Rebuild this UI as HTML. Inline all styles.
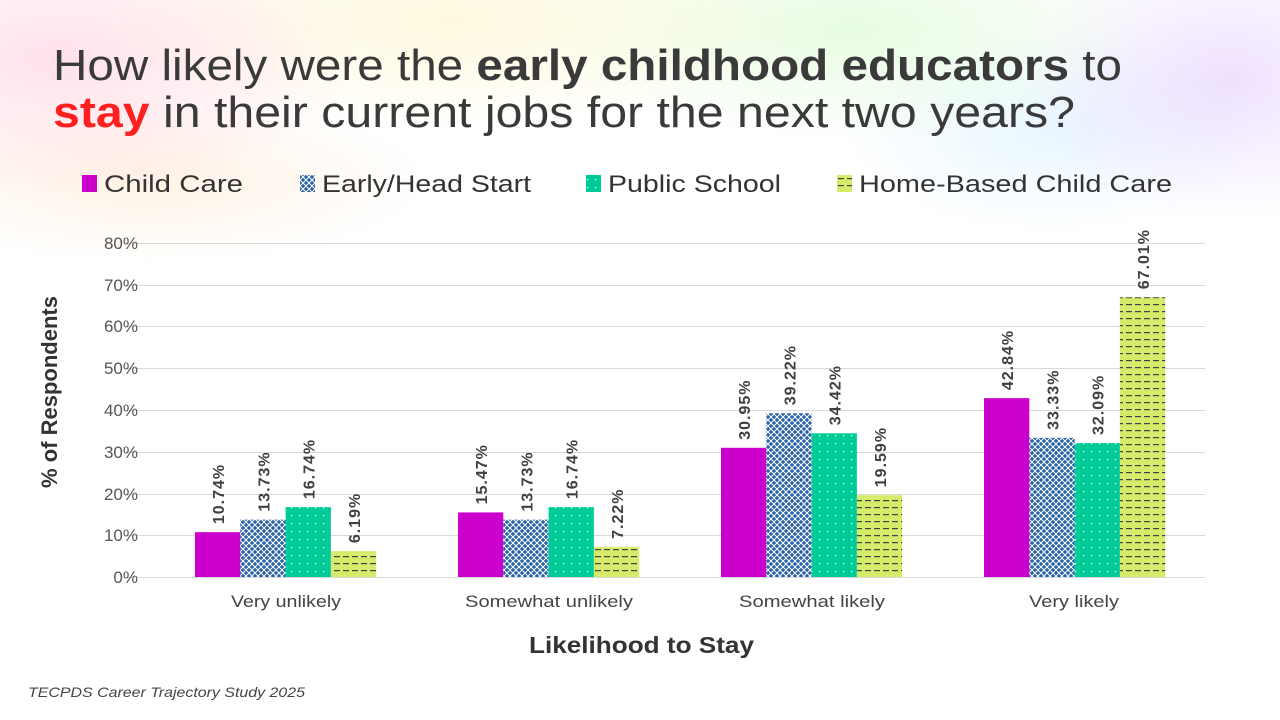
<!DOCTYPE html>
<html><head><meta charset="utf-8"><style>
html,body{margin:0;padding:0;}
body{width:1280px;height:720px;overflow:hidden;position:relative;background:#fff;font-family:"Liberation Sans",sans-serif;}
.bg{position:absolute;inset:0;background:
radial-gradient(ellipse 420px 200px at 60px 60px,rgba(255,200,215,.55),transparent 70%),
radial-gradient(ellipse 500px 160px at 450px 20px,rgba(255,245,200,.6),transparent 70%),
radial-gradient(ellipse 450px 160px at 850px 30px,rgba(215,250,205,.6),transparent 70%),
radial-gradient(ellipse 300px 200px at 1230px 80px,rgba(225,200,255,.55),transparent 70%),
radial-gradient(ellipse 300px 150px at 1050px 130px,rgba(210,240,255,.5),transparent 70%),
radial-gradient(ellipse 400px 120px at 150px 180px,rgba(255,225,190,.4),transparent 70%);}
</style></head><body><div class="bg"></div>
<svg width="1280" height="720" style="position:absolute;left:0;top:0" font-family="Liberation Sans, sans-serif">
<defs>
<pattern id="hb" width="6" height="6" patternUnits="userSpaceOnUse"><rect width="6" height="6" fill="#2a63a8"/><path d="M0 0L6 6M6 0L0 6" stroke="#fff" stroke-width="1"/></pattern>
<pattern id="pg" width="8" height="8" patternUnits="userSpaceOnUse"><rect width="8" height="8" fill="#00cc99"/><rect x="3" y="3" width="1.2" height="1.2" fill="#fff"/></pattern>
<pattern id="py" width="9" height="7" patternUnits="userSpaceOnUse"><rect width="9" height="7" fill="#d4ec6a"/><rect x="1" y="3" width="6" height="1.2" fill="#444"/></pattern>
</defs>
<text x="53" y="80" font-size="44" fill="#3a3a3a" textLength="1069" lengthAdjust="spacingAndGlyphs">How likely were the <tspan font-weight="bold">early childhood educators</tspan> to</text>
<text x="53" y="127" font-size="44" fill="#3a3a3a" textLength="1022" lengthAdjust="spacingAndGlyphs"><tspan font-weight="bold" fill="#ff2020">stay</tspan> in their current jobs for the next two years?</text>
<g font-size="24" fill="#333">
<rect x="82" y="175" width="15" height="17" fill="#cc00cc"/><text x="104" y="192" textLength="139" lengthAdjust="spacingAndGlyphs">Child Care</text>
<rect x="300" y="175" width="15" height="17" fill="url(#hb)"/><text x="322" y="192" textLength="209" lengthAdjust="spacingAndGlyphs">Early/Head Start</text>
<rect x="586" y="175" width="15" height="17" fill="url(#pg)"/><text x="608" y="192" textLength="173" lengthAdjust="spacingAndGlyphs">Public School</text>
<rect x="837" y="175" width="15" height="17" fill="url(#py)"/><text x="859" y="192" textLength="313" lengthAdjust="spacingAndGlyphs">Home-Based Child Care</text>
</g>
<g stroke="#d9d9d9" stroke-width="1">
<line x1="125" x2="1205" y1="243.5" y2="243.5"/><line x1="125" x2="1205" y1="285.5" y2="285.5"/><line x1="125" x2="1205" y1="326.5" y2="326.5"/><line x1="125" x2="1205" y1="368.5" y2="368.5"/><line x1="125" x2="1205" y1="410.5" y2="410.5"/><line x1="125" x2="1205" y1="452.5" y2="452.5"/><line x1="125" x2="1205" y1="494.5" y2="494.5"/><line x1="125" x2="1205" y1="535.5" y2="535.5"/><line x1="125" x2="1205" y1="577.5" y2="577.5"/>
</g>
<g font-size="17" fill="#555" text-anchor="end">
<text x="138" y="249">80%</text><text x="138" y="291">70%</text><text x="138" y="332">60%</text><text x="138" y="374">50%</text><text x="138" y="416">40%</text><text x="138" y="458">30%</text><text x="138" y="500">20%</text><text x="138" y="541">10%</text><text x="138" y="583">0%</text>
</g>
<text transform="translate(57,392) rotate(-90)" font-size="22" font-weight="bold" fill="#333" text-anchor="middle">% of Respondents</text>
<g id="bars"></g>
<g font-size="17" fill="#444">
<text x="231" y="607" textLength="110" lengthAdjust="spacingAndGlyphs">Very unlikely</text><text x="465" y="607" textLength="168" lengthAdjust="spacingAndGlyphs">Somewhat unlikely</text><text x="739" y="607" textLength="146" lengthAdjust="spacingAndGlyphs">Somewhat likely</text><text x="1029" y="607" textLength="90" lengthAdjust="spacingAndGlyphs">Very likely</text>
</g>
<text x="529" y="653" font-size="23" font-weight="bold" fill="#333" textLength="225" lengthAdjust="spacingAndGlyphs">Likelihood to Stay</text>
<text x="28" y="697" font-size="14" font-style="italic" fill="#444" textLength="277" lengthAdjust="spacingAndGlyphs">TECPDS Career Trajectory Study 2025</text>
</svg>
<script>
const d=[[10.74,13.73,16.74,6.19],[15.47,13.73,16.74,7.22],[30.95,39.22,34.42,19.59],[42.84,33.33,32.09,67.01]];
const f=["#cc00cc","url(#hb)","url(#pg)","url(#py)"];
const starts=[195,458,721,984];let s="";
d.forEach((g,i)=>g.forEach((v,j)=>{const x=starts[i]+j*45.3,h=v*4.175,y=577-h;
s+=`<rect x="${x}" y="${y}" width="45.3" height="${h}" fill="${f[j]}"/>`;
s+=`<text transform="translate(${x+29},${y-8}) rotate(-90)" font-size="16" font-weight="bold" fill="#404040" letter-spacing="1">${v.toFixed(2)}%</text>`;}));
document.getElementById('bars').innerHTML=s;
</script>
</body></html>
